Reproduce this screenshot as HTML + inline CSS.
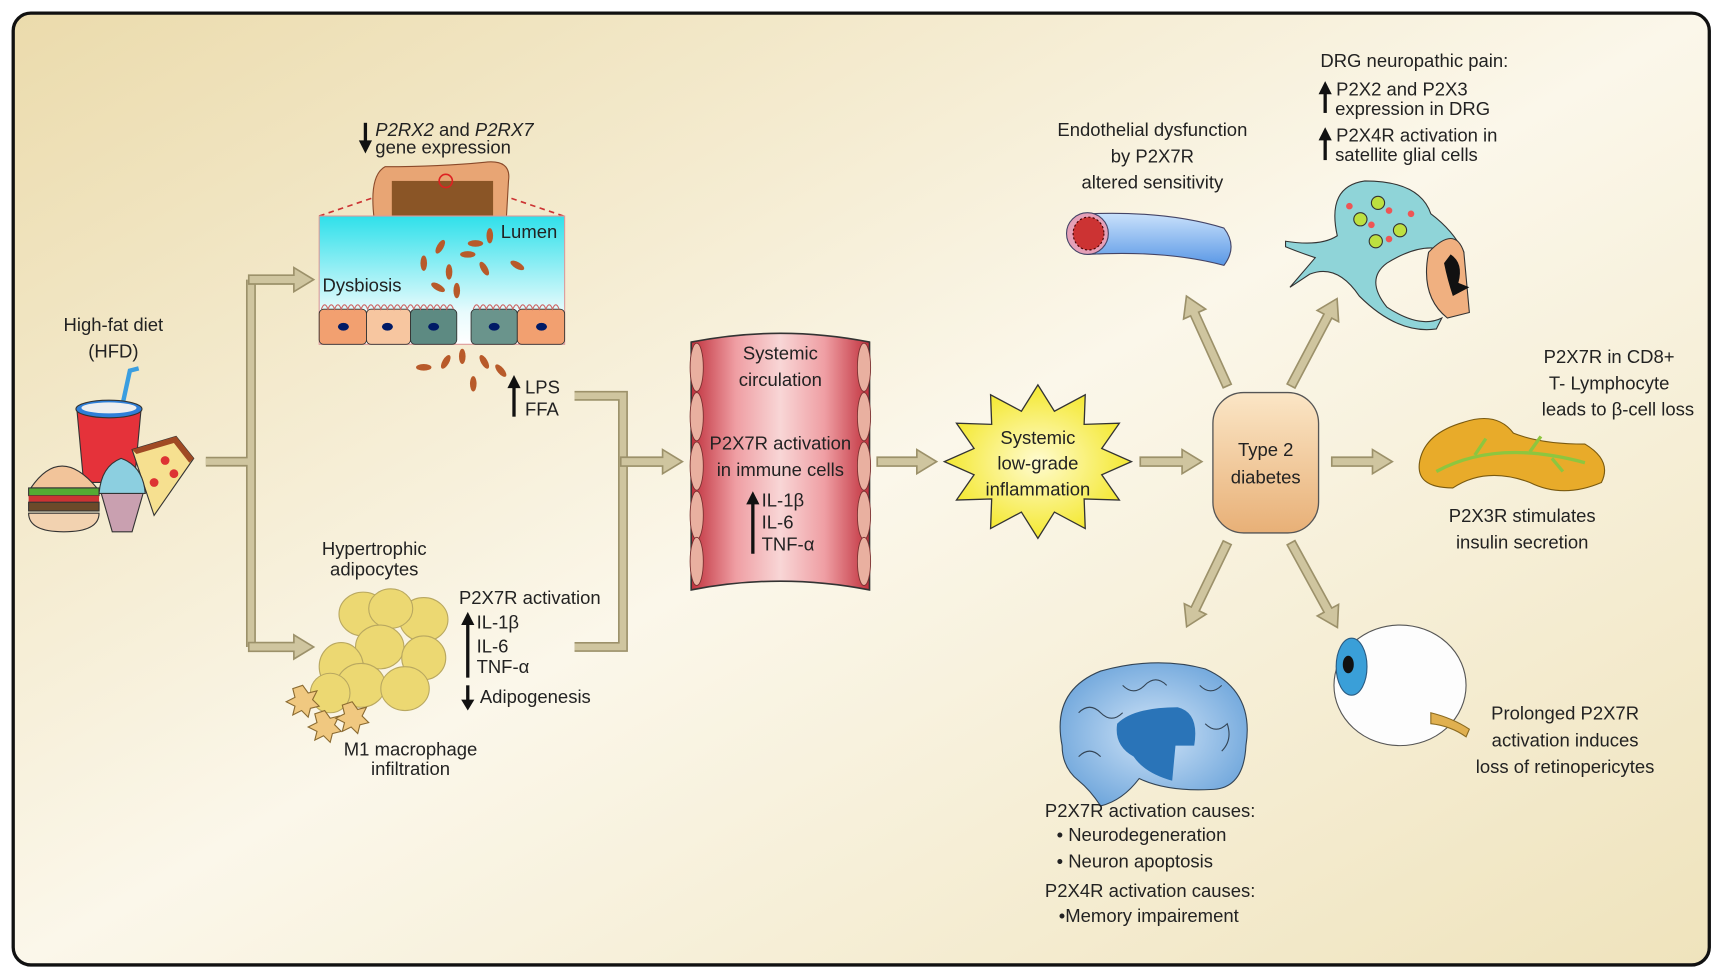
<!DOCTYPE html>
<html><head><meta charset="utf-8"><style>
html,body{margin:0;padding:0;background:#fff;}
svg{display:block;}
text{font-family:"Liberation Sans",sans-serif;fill:#222;font-size:16.8px;}
</style></head><body>
<svg width="1717" height="977" viewBox="0 0 1560 891" preserveAspectRatio="none" xmlns="http://www.w3.org/2000/svg">
<defs>
<linearGradient id="bg" x1="0" y1="0" x2="1" y2="1">
<stop offset="0" stop-color="#ebdbac"/><stop offset="0.5" stop-color="#fbf7ea"/><stop offset="1" stop-color="#efe3bc"/>
</linearGradient>
<linearGradient id="lumen" x1="0" y1="0" x2="0" y2="1">
<stop offset="0" stop-color="#2fe0ea"/><stop offset="0.75" stop-color="#e8fbfd"/><stop offset="1" stop-color="#ffffff"/>
</linearGradient>
<linearGradient id="vessel" x1="0" y1="0" x2="1" y2="0">
<stop offset="0" stop-color="#c0313d"/><stop offset="0.25" stop-color="#ef9ea3"/><stop offset="0.5" stop-color="#f8d6d6"/><stop offset="0.75" stop-color="#ef9ea3"/><stop offset="1" stop-color="#c0313d"/>
</linearGradient>
<radialGradient id="star" cx="0.5" cy="0.5" r="0.5"><stop offset="0" stop-color="#fffbd0"/><stop offset="1" stop-color="#f4e830"/></radialGradient>
<linearGradient id="t2d" x1="0" y1="0" x2="0" y2="1"><stop offset="0" stop-color="#fbe6c6"/><stop offset="1" stop-color="#e8b077"/></linearGradient>
<linearGradient id="endo" x1="0" y1="0" x2="0" y2="1"><stop offset="0" stop-color="#c9e1fb"/><stop offset="1" stop-color="#5a98e6"/></linearGradient>
<radialGradient id="brain" cx="0.5" cy="0.5" r="0.6"><stop offset="0" stop-color="#cfe3f7"/><stop offset="1" stop-color="#6aa3da"/></radialGradient>
</defs>
<rect x="12" y="12" width="1541" height="868" rx="16" fill="url(#bg)" stroke="#111" stroke-width="3"/>

<g fill="none" stroke="#9c916a" stroke-width="9">
<path d="M187,421 H228 M228,255 V590"/>
<path d="M522,361 H566 V590 H522 M566,421 H600"/>
</g>
<g fill="none" stroke="#cfc59f" stroke-width="6">
<path d="M187,421 H228 M228,255 V590"/>
<path d="M522,361 H566 V590 H522 M566,421 H600"/>
</g>
<g fill="#cfc59f" stroke="#9c916a" stroke-width="1.5">
<path transform="translate(226,255)" d="M0,-4 H41 V-11 L59,0 L41,11 V4 H0 Z"/>
<path transform="translate(226,590)" d="M0,-4 H41 V-11 L59,0 L41,11 V4 H0 Z"/>
<path transform="translate(564,421)" d="M0,-4 H38 V-11 L56,0 L38,11 V4 H0 Z"/>
<path transform="translate(797,421)" d="M0,-4 H36 V-11 L54,0 L36,11 V4 H0 Z"/>
<path transform="translate(1036,421)" d="M0,-4 H38 V-11 L56,0 L38,11 V4 H0 Z"/>
<path transform="translate(1210,421)" d="M0,-4 H37 V-11 L55,0 L37,11 V4 H0 Z"/>
<path transform="translate(1115,352) rotate(-114.3)" d="M0,-4 H72 V-11 L90,0 L72,11 V4 H0 Z"/>
<path transform="translate(1173,352) rotate(-62.3)" d="M0,-4 H72 V-11 L90,0 L72,11 V4 H0 Z"/>
<path transform="translate(1115,495) rotate(115.7)" d="M0,-4 H67 V-11 L85,0 L67,11 V4 H0 Z"/>
<path transform="translate(1173,495) rotate(61.4)" d="M0,-4 H70 V-11 L88,0 L70,11 V4 H0 Z"/>
</g>

<text x="103" y="302" text-anchor="middle">High-fat diet</text>
<text x="103" y="326" text-anchor="middle">(HFD)</text>
<path d="M110,375 L118,338 L126,336" stroke="#3a9ee0" stroke-width="4" fill="none"/>
<path d="M70,375 L128,375 L122,440 L76,440 Z" fill="#e5323a" stroke="#333"/>
<ellipse cx="99" cy="373" rx="30" ry="8" fill="#2f7fd8" stroke="#333"/>
<ellipse cx="99" cy="372" rx="25" ry="5" fill="#eee"/>
<path d="M120,410 L160,398 L176,418 L140,470 Z" fill="#f6e090" stroke="#333"/>
<path d="M120,410 L160,398 L176,418 L172,422 L158,404 L124,414Z" fill="#a04a24"/>
<circle cx="150" cy="420" r="4" fill="#d33"/><circle cx="140" cy="440" r="4" fill="#d33"/><circle cx="158" cy="432" r="4" fill="#d33"/>
<path d="M28,445 Q55,405 88,445 Z" fill="#f2c49a" stroke="#333"/>
<rect x="26" y="445" width="64" height="7" fill="#5a3" stroke="#333"/>
<rect x="26" y="452" width="64" height="6" fill="#c33"/>
<rect x="26" y="458" width="64" height="8" fill="#6b4a2a" stroke="#333"/>
<path d="M26,468 H90 Q90,485 58,485 Q26,485 26,468Z" fill="#f2d2b0" stroke="#333"/>
<path d="M92,450 L130,450 L120,485 L102,485 Z" fill="#c9a0b0" stroke="#333"/>
<path d="M90,450 Q92,425 110,418 Q130,425 132,450 Z" fill="#8ccfe0" stroke="#333"/>

<text x="341" y="124"><tspan font-style="italic">P2RX2</tspan> and <tspan font-style="italic">P2RX7</tspan></text>
<text x="341" y="140">gene expression</text>
<path d="M332,112 V132" stroke="#111" stroke-width="3"/><path d="M326,128 L332,140 L338,128Z" fill="#111"/>
<path d="M340,200 Q335,160 350,152 Q400,152 440,148 Q465,145 462,165 L460,200 Z" fill="#e8a574" stroke="#8a4a2a"/>
<rect x="356" y="165" width="92" height="35" fill="#8a5526"/>
<circle cx="405" cy="165" r="6" fill="none" stroke="#d22" stroke-width="1.5"/>
<path d="M290,197 L340,180 M512,197 L462,180" stroke="#c33" stroke-dasharray="5,4" stroke-width="1.5"/>
<rect x="290" y="197" width="223" height="117" fill="url(#lumen)" stroke="#d99"/>
<g stroke="#333" stroke-width="0.8">
<rect x="290" y="282" width="43" height="32" rx="4" fill="#f2a070"/>
<rect x="333" y="282" width="40" height="32" rx="4" fill="#f7c6a0"/>
<rect x="373" y="282" width="42" height="32" rx="4" fill="#5d8a82"/>
<rect x="428" y="282" width="42" height="32" rx="4" fill="#6a948c"/>
<rect x="470" y="282" width="43" height="32" rx="4" fill="#f2a070"/>
</g>
<path d="M292,282 q3,-8 6,0 q3,-8 6,0 q3,-8 6,0 q3,-8 6,0 q3,-8 6,0 q3,-8 6,0 q3,-8 6,0 q3,-8 6,0 q3,-8 6,0 q3,-8 6,0 q3,-8 6,0 q3,-8 6,0 q3,-8 6,0 q3,-8 6,0 q3,-8 6,0 q3,-8 6,0 q3,-8 6,0 q3,-8 6,0 q3,-8 6,0 q3,-8 6,0" fill="none" stroke="#c66" stroke-width="1"/>
<path d="M430,282 q3,-8 6,0 q3,-8 6,0 q3,-8 6,0 q3,-8 6,0 q3,-8 6,0 q3,-8 6,0 q3,-8 6,0 q3,-8 6,0 q3,-8 6,0 q3,-8 6,0 q3,-8 6,0 q3,-8 6,0 q3,-8 6,0" fill="none" stroke="#c66" stroke-width="1"/>
<g fill="#001a66"><ellipse cx="312" cy="298" rx="5" ry="3.5"/><ellipse cx="352" cy="298" rx="5" ry="3.5"/><ellipse cx="394" cy="298" rx="5" ry="3.5"/><ellipse cx="449" cy="298" rx="5" ry="3.5"/><ellipse cx="492" cy="298" rx="5" ry="3.5"/></g>
<g fill="#b85a2a">
<ellipse cx="385" cy="240" rx="3" ry="7"/><ellipse cx="400" cy="225" rx="3" ry="7" transform="rotate(30 400 225)"/><ellipse cx="425" cy="232" rx="7" ry="3"/><ellipse cx="445" cy="215" rx="3" ry="7"/><ellipse cx="408" cy="248" rx="3" ry="7"/><ellipse cx="440" cy="245" rx="3" ry="7" transform="rotate(-30 440 245)"/><ellipse cx="470" cy="242" rx="7" ry="3" transform="rotate(30 470 242)"/><ellipse cx="415" cy="265" rx="3" ry="7"/><ellipse cx="398" cy="262" rx="7" ry="3" transform="rotate(30 398 262)"/><ellipse cx="432" cy="222" rx="7" ry="3"/>
<ellipse cx="420" cy="325" rx="3" ry="7"/><ellipse cx="405" cy="330" rx="3" ry="7" transform="rotate(30 405 330)"/><ellipse cx="385" cy="335" rx="7" ry="3"/><ellipse cx="440" cy="330" rx="3" ry="7" transform="rotate(-30 440 330)"/><ellipse cx="430" cy="350" rx="3" ry="7"/><ellipse cx="455" cy="338" rx="3" ry="7" transform="rotate(-40 455 338)"/>
</g>
<text x="455" y="217" fill="#0a2a4a">Lumen</text>
<text x="293" y="266" fill="#0a2a4a">Dysbiosis</text>
<path d="M467,380 V350" stroke="#111" stroke-width="3"/><path d="M461,354 L467,342 L473,354Z" fill="#111"/>
<text x="477" y="359">LPS</text><text x="477" y="379">FFA</text>

<text x="340" y="506" text-anchor="middle">Hypertrophic</text>
<text x="340" y="525" text-anchor="middle">adipocytes</text>
<g fill="#ecd872" stroke="#b9a860" stroke-width="1">
<ellipse cx="330" cy="560" rx="22" ry="20"/><ellipse cx="385" cy="565" rx="22" ry="20"/><ellipse cx="355" cy="555" rx="20" ry="18"/>
<ellipse cx="345" cy="590" rx="22" ry="20"/><ellipse cx="310" cy="608" rx="20" ry="22"/><ellipse cx="385" cy="600" rx="20" ry="20"/>
<ellipse cx="328" cy="625" rx="22" ry="20"/><ellipse cx="368" cy="628" rx="22" ry="20"/><ellipse cx="300" cy="632" rx="18" ry="18"/>
</g>
<g fill="#f0c880" stroke="#8a6a30"><polygon points="275,625 280,632 288,630 284,638 290,644 282,646 280,654 274,648 266,652 268,644 260,640 268,636 266,628"/>
<polygon points="295,648 300,655 308,653 304,661 310,667 302,669 300,677 294,671 286,675 288,667 280,663 288,659 286,651"/>
<polygon points="320,640 325,647 333,645 329,653 335,659 327,661 325,669 319,663 311,667 313,659 305,655 313,651 311,643"/></g>
<text x="417" y="551">P2X7R activation</text>
<path d="M425,618 V566" stroke="#111" stroke-width="3"/><path d="M419,570 L425,558 L431,570Z" fill="#111"/>
<text x="433" y="573">IL-1β</text><text x="433" y="595">IL-6</text><text x="433" y="614">TNF-α</text>
<path d="M425,625 V640" stroke="#111" stroke-width="3"/><path d="M419,638 L425,648 L431,638Z" fill="#111"/>
<text x="436" y="641">Adipogenesis</text>
<text x="373" y="689" text-anchor="middle">M1 macrophage</text>
<text x="373" y="707" text-anchor="middle">infiltration</text>

<path d="M628,312 Q709,296 790,312 L790,538 Q709,522 628,538 Z" fill="url(#vessel)" stroke="#333" stroke-width="1.5"/>
<g fill="#e9b0a0" stroke="#7a3030" stroke-width="0.8">
<ellipse cx="633" cy="335" rx="6" ry="22"/><ellipse cx="633" cy="380" rx="6" ry="22"/><ellipse cx="633" cy="425" rx="6" ry="22"/><ellipse cx="633" cy="470" rx="6" ry="22"/><ellipse cx="633" cy="512" rx="6" ry="22"/>
<ellipse cx="785" cy="335" rx="6" ry="22"/><ellipse cx="785" cy="380" rx="6" ry="22"/><ellipse cx="785" cy="425" rx="6" ry="22"/><ellipse cx="785" cy="470" rx="6" ry="22"/><ellipse cx="785" cy="512" rx="6" ry="22"/>
</g>
<text x="709" y="328" text-anchor="middle">Systemic</text>
<text x="709" y="352" text-anchor="middle">circulation</text>
<text x="709" y="410" text-anchor="middle">P2X7R activation</text>
<text x="709" y="434" text-anchor="middle">in immune cells</text>
<path d="M684,505 V455" stroke="#111" stroke-width="3"/><path d="M678,460 L684,448 L690,460Z" fill="#111"/>
<text x="692" y="462">IL-1β</text><text x="692" y="482">IL-6</text><text x="692" y="502">TNF-α</text>

<polygon points="1028,421 1001,433 1017,456 985,455 986,482 958,467 943,491 928,467 900,482 901,455 869,456 885,433 858,421 885,409 869,386 901,387 900,360 928,375 943,351 958,375 986,360 985,387 1017,386 1001,409" fill="url(#star)" stroke="#333" stroke-width="1.2"/>
<text x="943" y="405" text-anchor="middle">Systemic</text>
<text x="943" y="428" text-anchor="middle">low-grade</text>
<text x="943" y="452" text-anchor="middle">inflammation</text>

<rect x="1102" y="358" width="96" height="128" rx="28" fill="url(#t2d)" stroke="#555" stroke-width="1.2"/>
<text x="1150" y="416" text-anchor="middle">Type 2</text>
<text x="1150" y="441" text-anchor="middle">diabetes</text>

<text x="1047" y="124" text-anchor="middle">Endothelial dysfunction</text>
<text x="1047" y="148" text-anchor="middle">by P2X7R</text>
<text x="1047" y="172" text-anchor="middle">altered sensitivity</text>
<path d="M988,195 Q1060,192 1112,208 Q1125,225 1112,242 Q1060,228 988,232 Z" fill="url(#endo)" stroke="#446" stroke-width="1"/>
<ellipse cx="988" cy="213" rx="19" ry="19" fill="#e5a0b8" stroke="#446"/>
<ellipse cx="989" cy="213" rx="14" ry="15" fill="#c33" stroke="#400" stroke-dasharray="2,2"/>

<text x="1285" y="61" text-anchor="middle">DRG neuropathic pain:</text>
<path d="M1204,103 V82" stroke="#111" stroke-width="3"/><path d="M1198,86 L1204,74 L1210,86Z" fill="#111"/>
<text x="1214" y="87">P2X2 and P2X3</text><text x="1213" y="105">expression in DRG</text>
<path d="M1204,146 V124" stroke="#111" stroke-width="3"/><path d="M1198,128 L1204,116 L1210,128Z" fill="#111"/>
<text x="1214" y="129">P2X4R activation in</text><text x="1213" y="147">satellite glial cells</text>
<path d="M1168,220 Q1200,225 1215,215 Q1205,170 1240,165 Q1290,165 1300,195 Q1320,210 1330,230 L1325,235 Q1300,215 1260,240 Q1240,255 1260,280 Q1290,300 1310,290 L1305,300 Q1270,305 1235,270 Q1215,240 1190,250 L1172,262 L1195,235 Q1180,230 1168,225Z" fill="#8fd4d8" stroke="#333"/>
<g fill="#bde040" stroke="#333"><circle cx="1236" cy="200" r="6"/><circle cx="1252" cy="185" r="6"/><circle cx="1272" cy="210" r="6"/><circle cx="1250" cy="220" r="6"/></g>
<g fill="#e55"><circle cx="1226" cy="188" r="3"/><circle cx="1262" cy="192" r="3"/><circle cx="1246" cy="205" r="3"/><circle cx="1282" cy="195" r="3"/><circle cx="1262" cy="218" r="3"/></g>
<path d="M1298,230 Q1322,205 1330,230 L1335,285 L1315,290 Q1290,270 1298,230Z" fill="#f0b080" stroke="#333"/>
<path d="M1318,232 Q1330,240 1325,258 L1335,262 L1320,270 Q1315,255 1312,240Z" fill="#111"/>

<text x="1462" y="331" text-anchor="middle">P2X7R in CD8+</text>
<text x="1462" y="355" text-anchor="middle">T- Lymphocyte</text>
<text x="1470" y="379" text-anchor="middle">leads to β-cell loss</text>
<path d="M1290,420 Q1295,395 1330,385 Q1360,375 1375,395 Q1400,405 1440,405 Q1465,420 1455,440 Q1420,455 1390,440 Q1350,425 1320,445 Q1285,445 1290,420Z" fill="#e8ab2a" stroke="#7a5a10"/>
<path d="M1305,430 Q1360,400 1440,422 M1340,415 L1350,400 M1390,412 L1400,398 M1410,418 L1420,430" stroke="#8dc63f" stroke-width="3" fill="none"/>
<text x="1383" y="476" text-anchor="middle">P2X3R stimulates</text>
<text x="1383" y="500" text-anchor="middle">insulin secretion</text>

<ellipse cx="1272" cy="625" rx="60" ry="55" fill="#fdfdfd" stroke="#555"/>
<ellipse cx="1228" cy="608" rx="14" ry="26" fill="#3a9fd8" stroke="#2a5a80"/>
<ellipse cx="1225" cy="606" rx="5" ry="8" fill="#111"/>
<path d="M1300,650 Q1320,655 1335,665 L1332,672 Q1318,662 1300,660Z" fill="#e0b050" stroke="#8a6a20"/>
<text x="1422" y="656" text-anchor="middle">Prolonged P2X7R</text>
<text x="1422" y="681" text-anchor="middle">activation induces</text>
<text x="1422" y="705" text-anchor="middle">loss of retinopericytes</text>

<path d="M965,680 Q955,630 1000,612 Q1050,598 1095,610 Q1140,630 1132,680 Q1130,720 1100,720 Q1060,722 1035,710 Q1020,730 1000,735 Q990,720 980,712 Q965,700 965,680Z" fill="url(#brain)" stroke="#345"/>
<path d="M1015,660 Q1030,645 1070,645 Q1090,650 1085,680 L1068,680 L1065,712 Q1040,705 1030,690 Q1012,680 1015,660Z" fill="#2a74b8"/>
<path d="M980,650 q10,-10 20,0 q10,10 20,0 M1020,625 q10,10 20,0 q10,-10 20,0 M1090,625 q10,10 20,0 M1095,660 q10,10 20,0 q5,15 -5,25 M980,690 q10,-10 20,0" stroke="#345" fill="none" stroke-width="1"/>
<text x="1045" y="745" text-anchor="middle">P2X7R activation causes:</text>
<text x="960" y="767">• Neurodegeneration</text>
<text x="960" y="791">• Neuron apoptosis</text>
<text x="1045" y="818" text-anchor="middle">P2X4R activation causes:</text>
<text x="962" y="841">•Memory impairement</text>
</svg>
</body></html>
